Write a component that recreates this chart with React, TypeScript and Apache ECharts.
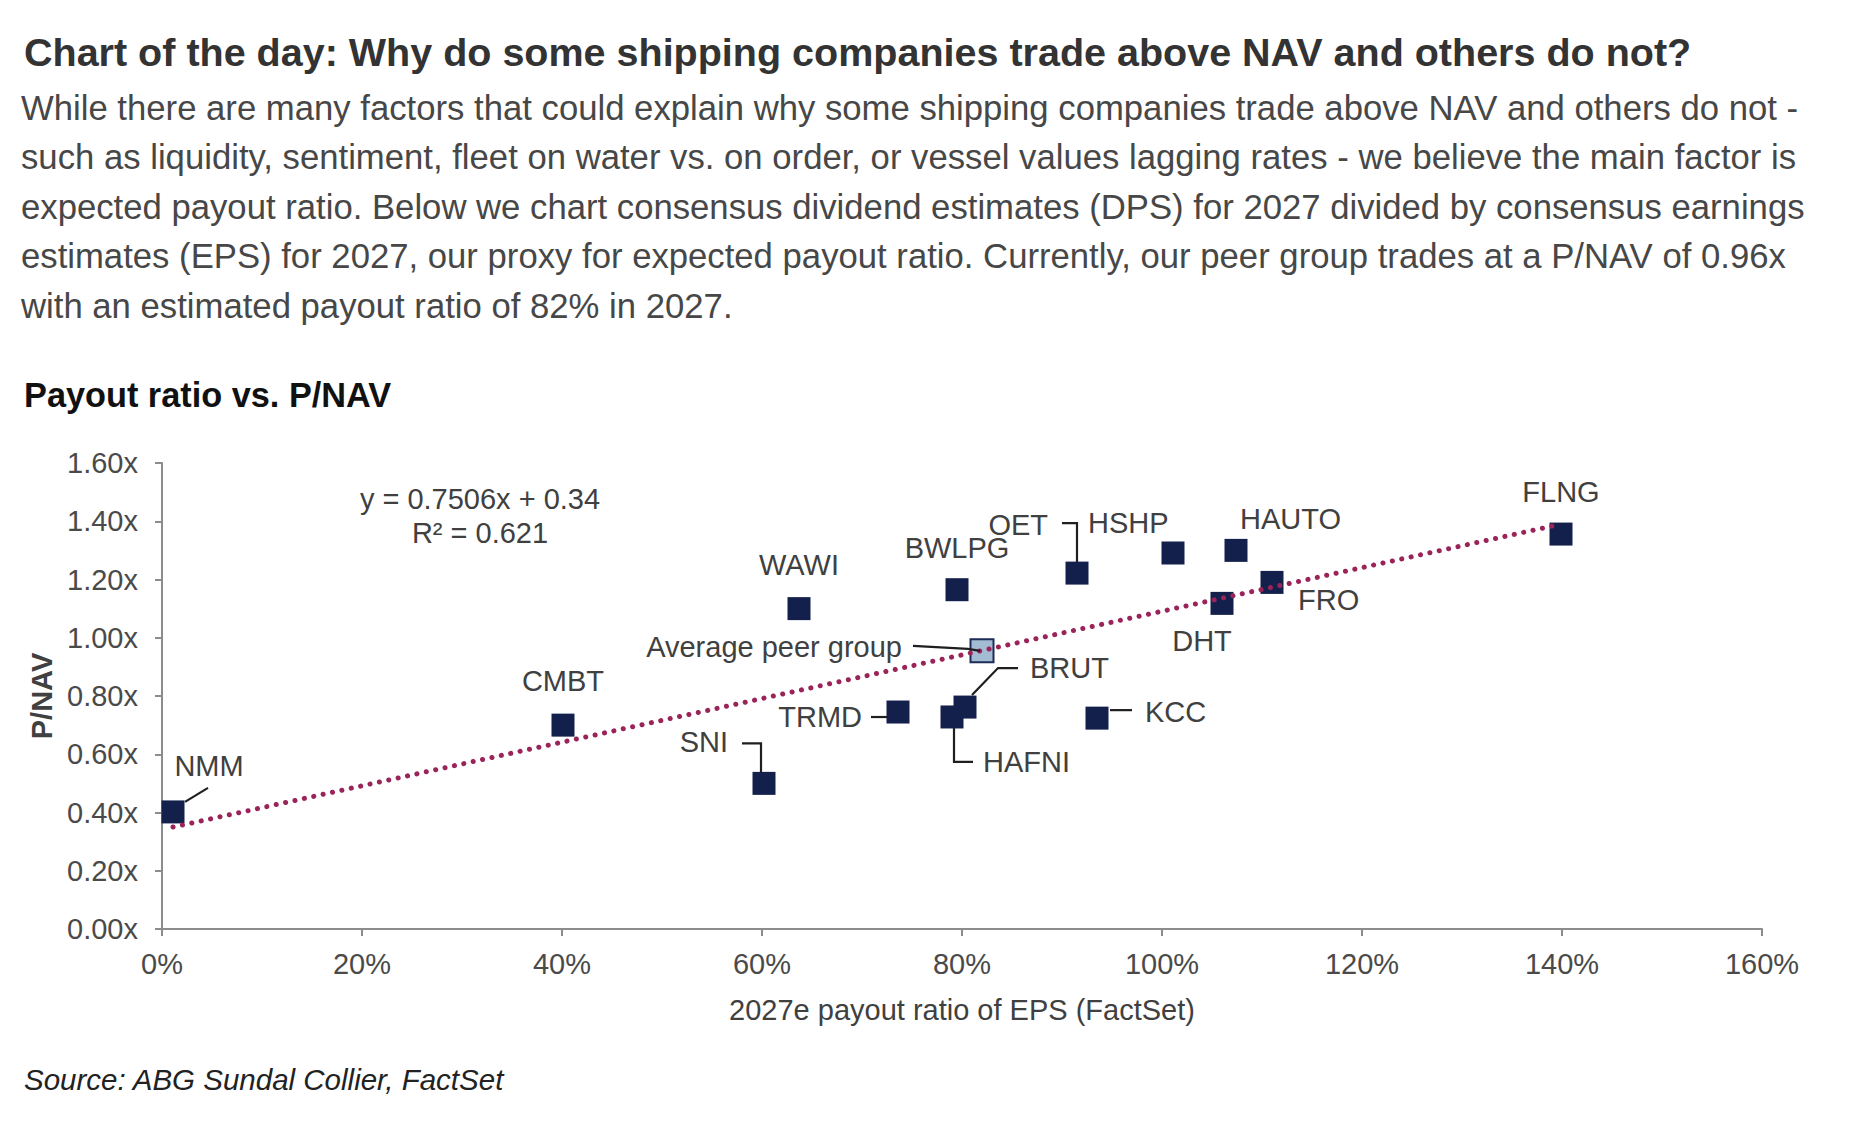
import React, { useEffect, useRef } from "react";
import * as echarts from "echarts";

// ---- data ----
const companies = ["NMM", "CMBT", "SNI", "WAWI", "TRMD", "HAFNI", "BRUT", "BWLPG", "OET", "HSHP", "HAUTO", "DHT", "FRO", "KCC", "FLNG"];
const payoutRatio2027 = [1.1, 40.1, 60.2, 63.7, 73.6, 79.0, 80.3, 79.5, 91.5, 101.1, 107.4, 106.0, 111.0, 93.5, 139.9];
const pNav = [0.402, 0.70, 0.50, 1.10, 0.745, 0.728, 0.762, 1.165, 1.222, 1.291, 1.30, 1.118, 1.19, 0.724, 1.356];

const peerName = "Average peer group";
const peerPayout = [82.0];
const peerPNav = [0.955];

const trendX = [1.1, 139.9];
const trendY = [0.35, 1.39];

const xTicks = [0, 20, 40, 60, 80, 100, 120, 140, 160];
const yTicks = [0, 0.2, 0.4, 0.6, 0.8, 1.0, 1.2, 1.4, 1.6];

const titleText = "Chart of the day: Why do some shipping companies trade above NAV and others do not?";
const bodyLines = [
  "While there are many factors that could explain why some shipping companies trade above NAV and others do not -",
  "such as liquidity, sentiment, fleet on water vs. on order, or vessel values lagging rates - we believe the main factor is",
  "expected payout ratio. Below we chart consensus dividend estimates (DPS) for 2027 divided by consensus earnings",
  "estimates (EPS) for 2027, our proxy for expected payout ratio. Currently, our peer group trades at a P/NAV of 0.96x",
  "with an estimated payout ratio of 82% in 2027.",
];
const chartTitle = "Payout ratio vs. P/NAV";
const equationLines = ["y = 0.7506x + 0.34", "R\u00B2 = 0.621"];
const sourceText = "Source: ABG Sundal Collier, FactSet";
const xAxisName = "2027e payout ratio of EPS (FactSet)";
const yAxisName = "P/NAV";

// ---- label placement (pixel offsets from each marker centre) ----
type LabelCfg = { dx: number; dy: number; align: "left" | "center" | "right"; leader?: [number, number][] };
const labelLayout: Record<string, LabelCfg> = {
  NMM: { dx: 36, dy: -46, align: "center", leader: [[12, -10], [35, -24]] },
  CMBT: { dx: 0, dy: -44, align: "center" },
  SNI: { dx: -36, dy: -41, align: "right", leader: [[-22, -40], [-3, -40], [-3, -11]] },
  WAWI: { dx: 0, dy: -44, align: "center" },
  TRMD: { dx: -36, dy: 5, align: "right", leader: [[-27, 5], [-11, 5]] },
  HAFNI: { dx: 31, dy: 45, align: "left", leader: [[2, 11], [2, 45], [21, 45]] },
  BRUT: { dx: 65, dy: -39, align: "left", leader: [[7, -12], [33, -39], [53, -39]] },
  BWLPG: { dx: 0, dy: -42, align: "center" },
  OET: { dx: -29, dy: -48, align: "right", leader: [[-15, -50], [0, -50], [0, -11]] },
  HSHP: { dx: -85, dy: -30, align: "left" },
  HAUTO: { dx: 4, dy: -31, align: "left" },
  DHT: { dx: -20, dy: 38, align: "center" },
  FRO: { dx: 26, dy: 18, align: "left" },
  KCC: { dx: 48, dy: -6, align: "left", leader: [[13, -8], [35, -8]] },
  FLNG: { dx: 0, dy: -42, align: "center" },
  [peerName]: { dx: -80, dy: -4, align: "right", leader: [[-69, -5], [-14, -2], [-2, 0]] },
};

const FONT = '"Liberation Sans", Arial, sans-serif';

export default function App() {
  const ref = useRef<HTMLDivElement>(null);

  useEffect(() => {
    if (!ref.current) return;
    const chart = echarts.init(ref.current, undefined, { renderer: "svg" });

    const companyData = companies.map((n, i) => [payoutRatio2027[i], pNav[i]]);
    const peerData = peerPayout.map((v, i) => [v, peerPNav[i]]);
    const labelNames = [...companies, peerName];
    const labelData = [...companyData, ...peerData];
    const trendData = trendX.map((v, i) => [v, trendY[i]]);

    const graphics: any[] = [
      {
        type: "text",
        left: 24,
        top: 54 - 22,
        style: { text: titleText, fontFamily: FONT, fontSize: 39.5, fontWeight: "bold", fill: "#333333" },
      },
      ...bodyLines.map((t, i) => ({
        type: "text",
        left: 21,
        top: 110 + i * 49.6 - 20,
        style: { text: t, fontFamily: FONT, fontSize: 34.7, fill: "#474747" },
      })),
      {
        type: "text",
        left: 24,
        top: 398 - 20,
        style: { text: chartTitle, fontFamily: FONT, fontSize: 34.3, fontWeight: "bold", fill: "#111111" },
      },
      ...equationLines.map((t, i) => ({
        type: "text",
        x: 480,
        y: 499 + i * 34,
        style: { text: t, fontFamily: FONT, fontSize: 29, fill: "#404040", align: "center", verticalAlign: "middle" },
      })),
      {
        type: "text",
        left: 24,
        top: 1081 - 17,
        style: { text: sourceText, fontFamily: FONT, fontSize: 29.5, fontStyle: "italic", fill: "#222222" },
      },
    ];

    const axisColor = "#8c8c8c";
    chart.setOption({
      animation: false,
      backgroundColor: "#ffffff",
      textStyle: { fontFamily: FONT },
      grid: { left: 162, top: 463, width: 1600, height: 466, containLabel: false },
      xAxis: {
        type: "value",
        min: xTicks[0],
        max: xTicks[xTicks.length - 1],
        interval: 20,
        name: xAxisName,
        nameLocation: "middle",
        nameGap: 66,
        nameTextStyle: { fontFamily: FONT, fontSize: 29, color: "#404040" },
        axisLine: { show: true, lineStyle: { color: axisColor, width: 2 } },
        axisTick: { show: true, length: 7, lineStyle: { color: axisColor, width: 2 } },
        splitLine: { show: false },
        axisLabel: { formatter: (v: number) => `${v}%`, fontFamily: FONT, fontSize: 29, color: "#4a4a4a", margin: 20 },
      },
      yAxis: {
        type: "value",
        min: yTicks[0],
        max: yTicks[yTicks.length - 1],
        interval: 0.2,
        name: yAxisName,
        nameLocation: "middle",
        nameGap: 94,
        nameTextStyle: { fontFamily: FONT, fontSize: 29, fontWeight: "bold", color: "#404040" },
        axisLine: { show: true, lineStyle: { color: axisColor, width: 2 } },
        axisTick: { show: true, length: 7, lineStyle: { color: axisColor, width: 2 } },
        splitLine: { show: false },
        axisLabel: { formatter: (v: number) => `${v.toFixed(2)}x`, fontFamily: FONT, fontSize: 29, color: "#4a4a4a", margin: 24 },
      },
      graphic: graphics,
      series: [
        {
          type: "scatter",
          name: "Companies",
          data: companyData,
          symbol: "rect",
          symbolSize: 23,
          itemStyle: { color: "#13204b", opacity: 1 },
          z: 3,
        },
        {
          type: "scatter",
          name: peerName,
          data: peerData,
          symbol: "rect",
          symbolSize: 23,
          itemStyle: { color: "#a4bcd3", borderColor: "#1c2b57", borderWidth: 2, opacity: 1 },
          z: 3,
        },
        {
          type: "line",
          name: "Trend",
          data: trendData,
          symbol: "none",
          lineStyle: { color: "#9a2459", width: 5, type: [0.1, 9.5], cap: "round" },
          z: 4,
        },
        {
          type: "custom",
          name: "Labels",
          data: labelData,
          clip: false,
          z: 5,
          renderItem: (params: any, api: any) => {
            const p = api.coord([api.value(0), api.value(1)]);
            const name = labelNames[params.dataIndex];
            const cfg = labelLayout[name];
            const children: any[] = [];
            if (cfg.leader) {
              children.push({
                type: "polyline",
                shape: { points: cfg.leader.map(([a, b]) => [p[0] + a, p[1] + b]) },
                style: { stroke: "#1f1f1f", lineWidth: 2.2, fill: null },
              });
            }
            children.push({
              type: "text",
              x: p[0] + cfg.dx,
              y: p[1] + cfg.dy,
              style: {
                text: name,
                fontFamily: FONT,
                fontSize: 29,
                fill: "#404040",
                align: cfg.align,
                verticalAlign: "middle",
              },
            });
            return { type: "group", children };
          },
        },
      ],
    });

    return () => chart.dispose();
  }, []);

  return (
    <div
      ref={ref}
      style={{ position: "absolute", left: 0, top: 0, width: 1850, height: 1135, background: "#ffffff" }}
    />
  );
}
